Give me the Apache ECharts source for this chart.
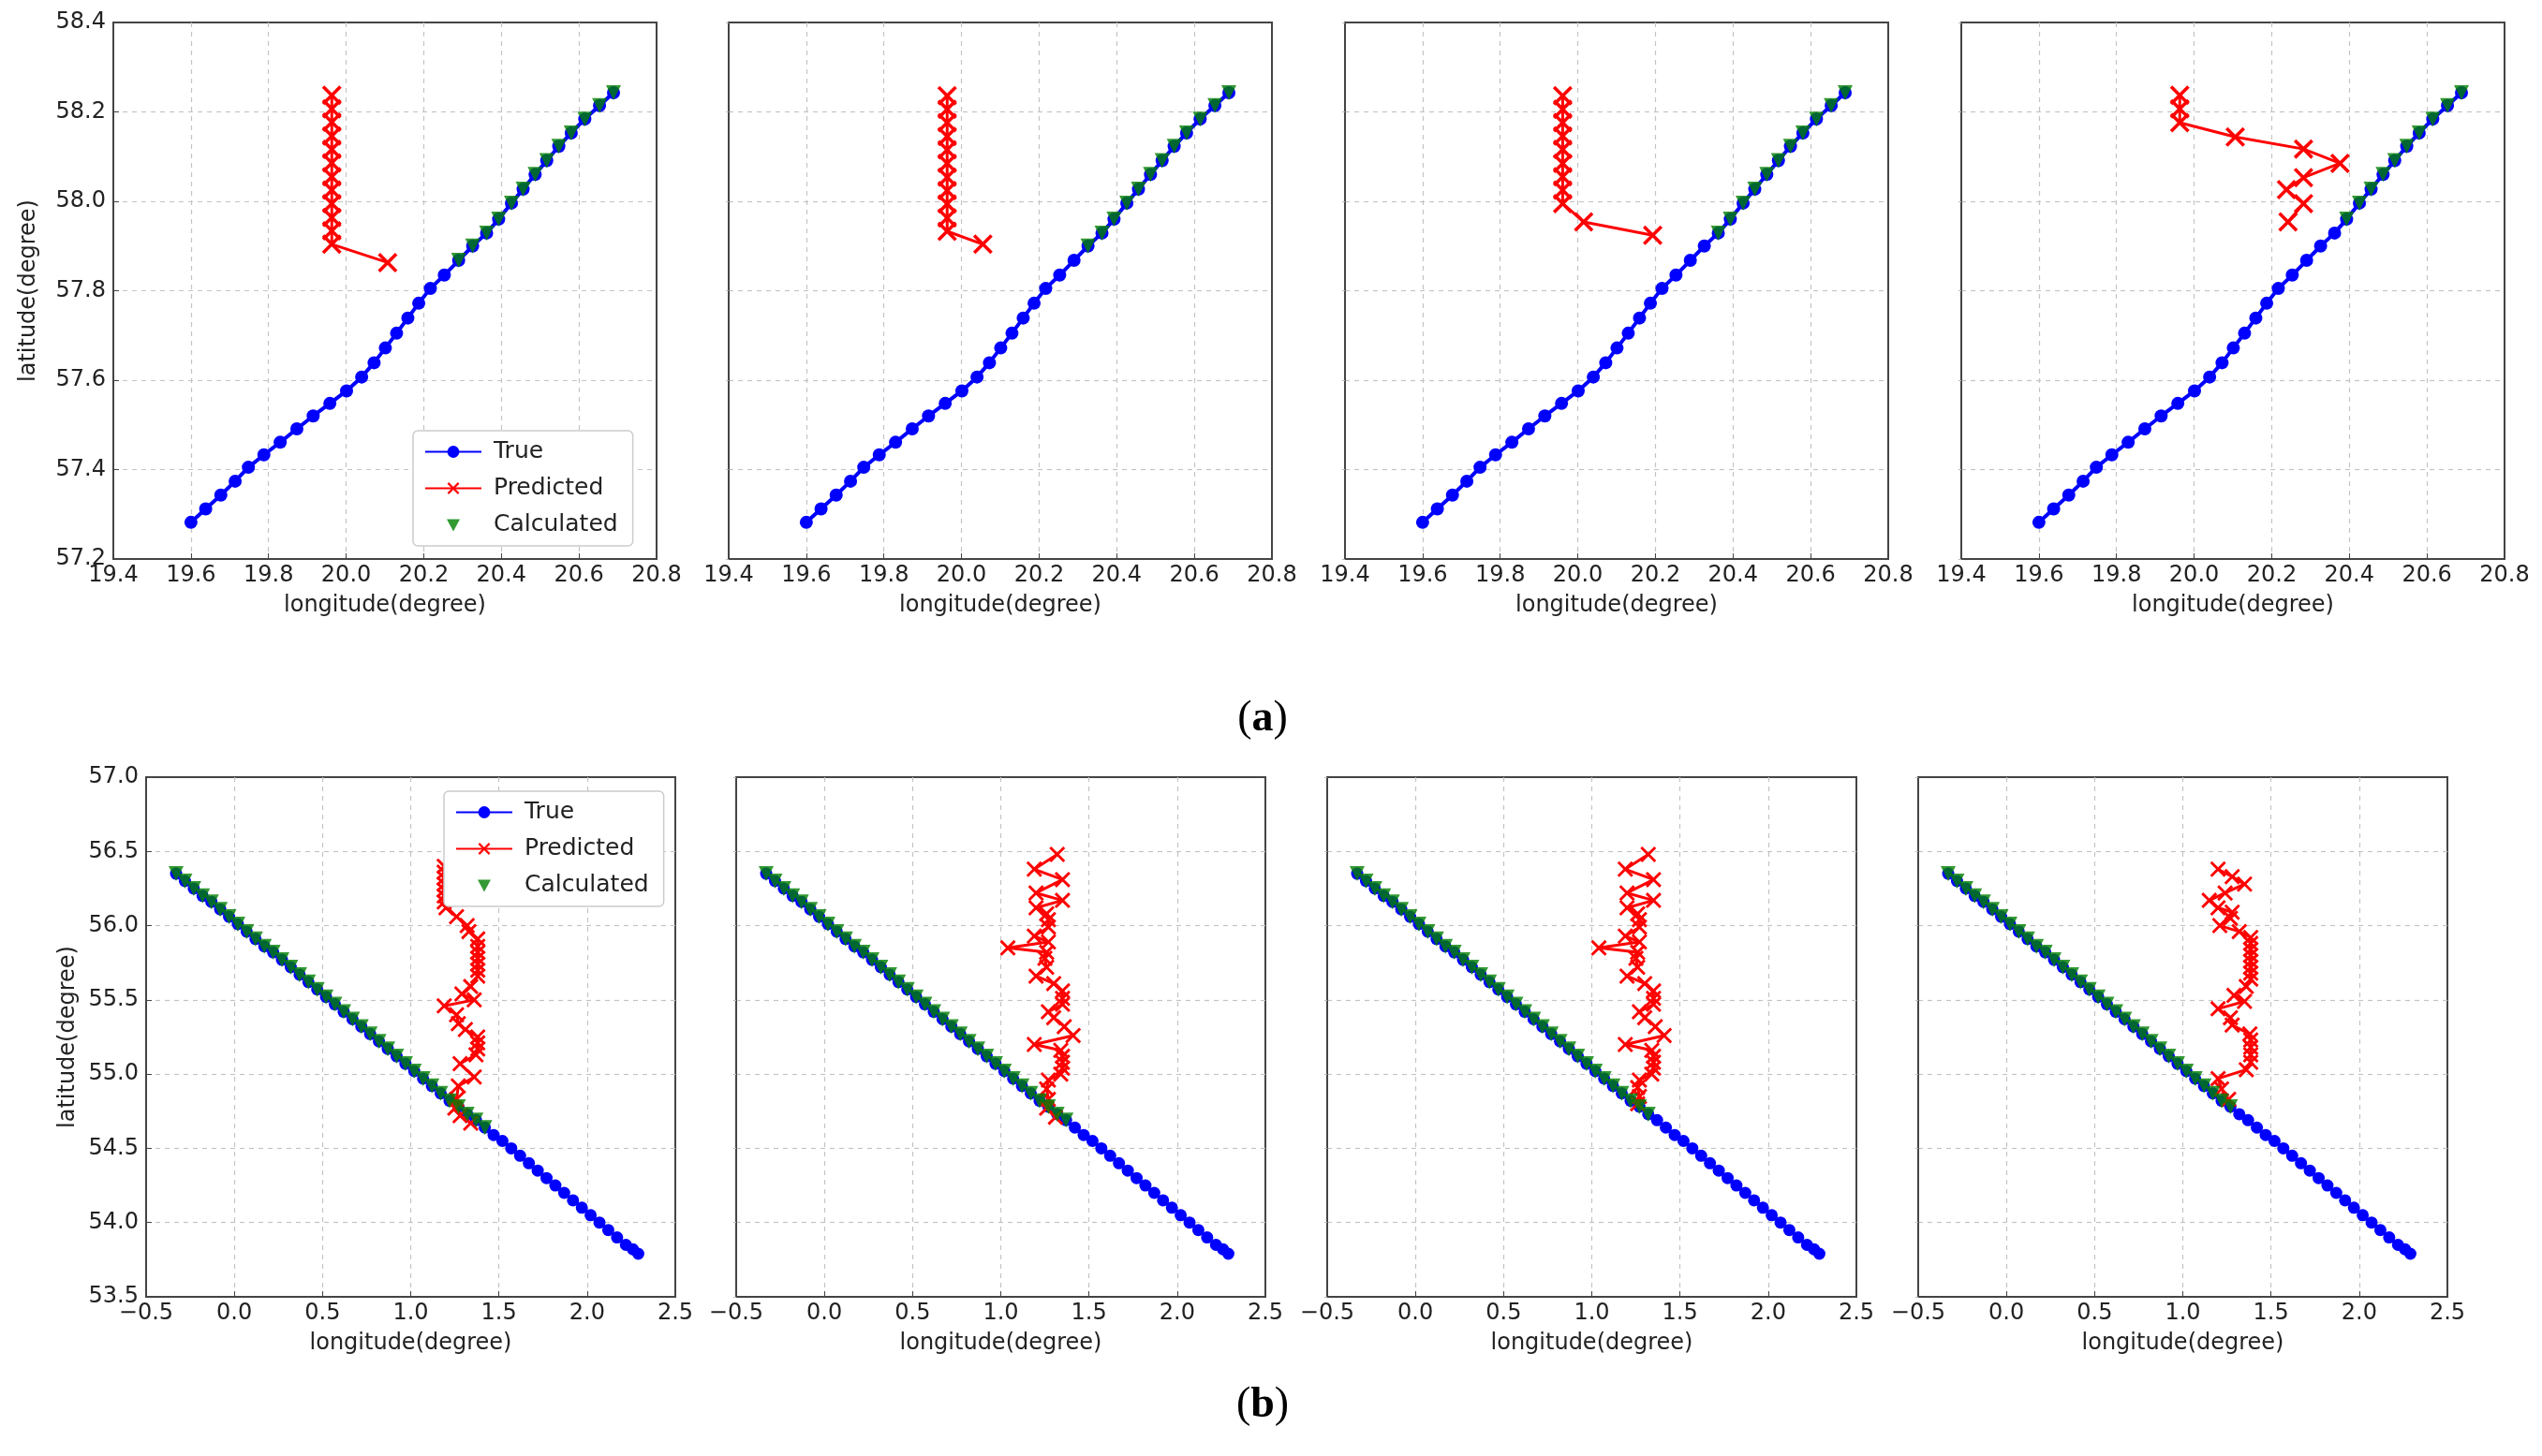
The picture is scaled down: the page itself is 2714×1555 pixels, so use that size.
<!DOCTYPE html>
<html>
<head>
<meta charset="utf-8">
<title>Trajectory prediction</title>
<script src="https://cdn.jsdelivr.net/npm/echarts@6/dist/echarts.min.js"></script>
<style>
    html, body { margin: 0; padding: 0; background: #fff; }
    #chart { width: 2714px; height: 1555px; }
</style>
</head>
<body>
<div id="chart"></div>
<script>
// --- (a) 真实轨迹，四个子图相同 ---
const trueALon = [19.600, 19.638, 19.677, 19.714, 19.748, 19.788, 19.830, 19.873, 19.915, 19.958, 20.001, 20.040, 20.072, 20.101, 20.130, 20.159, 20.187, 20.217, 20.253, 20.290, 20.326, 20.362, 20.393, 20.426, 20.456, 20.487, 20.517, 20.548, 20.580, 20.615, 20.653, 20.689];
const trueALat = [57.282, 57.312, 57.343, 57.374, 57.405, 57.433, 57.461, 57.491, 57.520, 57.548, 57.576, 57.607, 57.639, 57.672, 57.705, 57.739, 57.772, 57.805, 57.835, 57.868, 57.900, 57.929, 57.960, 57.996, 58.027, 58.060, 58.091, 58.123, 58.153, 58.184, 58.214, 58.243];
// first index of the true track that is also "Calculated"
const calcStartA = [19, 20, 21, 22];

const predA1Lon = [19.963, 19.963, 19.963, 19.963, 19.963, 19.963, 19.963, 19.963, 19.963, 19.963, 19.963, 19.963, 20.107];
const predA1Lat = [58.237, 58.207, 58.177, 58.146, 58.116, 58.086, 58.055, 58.025, 57.995, 57.964, 57.934, 57.904, 57.863];
const predA2Lon = [19.963, 19.963, 19.963, 19.963, 19.963, 19.963, 19.963, 19.963, 19.963, 19.963, 19.963, 20.055];
const predA2Lat = [58.236, 58.206, 58.176, 58.145, 58.115, 58.085, 58.054, 58.024, 57.994, 57.963, 57.933, 57.904];
const predA3Lon = [19.961, 19.961, 19.961, 19.961, 19.961, 19.961, 19.961, 19.961, 19.961, 20.015, 20.193];
const predA3Lat = [58.236, 58.206, 58.176, 58.146, 58.116, 58.085, 58.055, 58.025, 57.995, 57.954, 57.924];
const predA4Lon = [19.963, 19.963, 19.963, 20.106, 20.282, 20.376, 20.282, 20.238, 20.282, 20.242];
const predA4Lat = [58.237, 58.207, 58.176, 58.144, 58.117, 58.085, 58.053, 58.026, 57.995, 57.954];

// --- (b) ---
const trueBLon = [-0.33, -0.28, -0.23, -0.18, -0.13, -0.08, -0.03, 0.02, 0.07, 0.12, 0.17, 0.22, 0.27, 0.32, 0.37, 0.42, 0.47, 0.52, 0.57, 0.62, 0.67, 0.72, 0.77, 0.82, 0.87, 0.92, 0.97, 1.02, 1.07, 1.12, 1.17, 1.22, 1.27, 1.32, 1.37, 1.42, 1.47, 1.52, 1.57, 1.62, 1.67, 1.72, 1.77, 1.82, 1.87, 1.92, 1.97, 2.02, 2.07, 2.12, 2.17, 2.22, 2.26, 2.29];
const trueBLat = [56.35, 56.30, 56.25, 56.20, 56.16, 56.11, 56.06, 56.01, 55.96, 55.91, 55.86, 55.82, 55.77, 55.72, 55.67, 55.62, 55.57, 55.52, 55.47, 55.42, 55.37, 55.32, 55.27, 55.22, 55.17, 55.12, 55.07, 55.02, 54.97, 54.92, 54.87, 54.82, 54.78, 54.73, 54.69, 54.64, 54.59, 54.55, 54.50, 54.45, 54.40, 54.35, 54.30, 54.25, 54.20, 54.15, 54.10, 54.05, 54.00, 53.95, 53.90, 53.85, 53.82, 53.79];
// last index of the true track that is also "Calculated"
const calcEndB = [35, 34, 33, 32];

const predB1Lon = [1.34, 1.28, 1.25, 1.26, 1.27, 1.36, 1.28, 1.37, 1.38, 1.38, 1.38, 1.31, 1.27, 1.26, 1.19, 1.36, 1.29, 1.34, 1.38, 1.38, 1.38, 1.38, 1.38, 1.38, 1.38, 1.33, 1.32, 1.26, 1.20, 1.19, 1.19, 1.19, 1.19, 1.19, 1.19, 1.19];
const predB1Lat = [54.67, 54.72, 54.77, 54.83, 54.92, 54.98, 55.07, 55.13, 55.17, 55.21, 55.25, 55.30, 55.34, 55.40, 55.46, 55.50, 55.54, 55.59, 55.66, 55.70, 55.74, 55.78, 55.82, 55.86, 55.91, 55.96, 56.00, 56.06, 56.12, 56.16, 56.20, 56.24, 56.28, 56.32, 56.36, 56.40];
const predB2Lon = [1.31, 1.26, 1.27, 1.26, 1.27, 1.34, 1.35, 1.35, 1.35, 1.34, 1.19, 1.41, 1.36, 1.30, 1.27, 1.35, 1.35, 1.35, 1.30, 1.20, 1.26, 1.25, 1.26, 1.04, 1.27, 1.19, 1.27, 1.27, 1.26, 1.20, 1.35, 1.20, 1.35, 1.19, 1.32];
const predB2Lat = [54.71, 54.77, 54.83, 54.90, 54.96, 55.00, 55.04, 55.08, 55.12, 55.16, 55.20, 55.26, 55.32, 55.38, 55.42, 55.47, 55.51, 55.56, 55.61, 55.66, 55.72, 55.78, 55.82, 55.85, 55.89, 55.93, 55.99, 56.04, 56.08, 56.12, 56.17, 56.22, 56.31, 56.38, 56.48];
const predB3Lon = [1.26, 1.27, 1.26, 1.27, 1.34, 1.35, 1.35, 1.35, 1.34, 1.19, 1.41, 1.36, 1.30, 1.27, 1.35, 1.35, 1.35, 1.30, 1.20, 1.26, 1.25, 1.26, 1.04, 1.27, 1.19, 1.27, 1.27, 1.26, 1.20, 1.35, 1.20, 1.35, 1.19, 1.32];
const predB3Lat = [54.80, 54.85, 54.91, 54.96, 55.00, 55.04, 55.08, 55.12, 55.16, 55.20, 55.26, 55.32, 55.38, 55.42, 55.47, 55.51, 55.56, 55.61, 55.66, 55.72, 55.78, 55.82, 55.85, 55.89, 55.93, 55.99, 56.04, 56.08, 56.12, 56.17, 56.22, 56.31, 56.38, 56.48];
const predB4Lon = [1.26, 1.22, 1.20, 1.36, 1.385, 1.385, 1.385, 1.385, 1.38, 1.28, 1.27, 1.20, 1.35, 1.29, 1.36, 1.385, 1.385, 1.385, 1.385, 1.385, 1.385, 1.385, 1.385, 1.32, 1.21, 1.27, 1.28, 1.20, 1.15, 1.24, 1.35, 1.28, 1.20];
const predB4Lat = [54.83, 54.90, 54.97, 55.03, 55.08, 55.13, 55.18, 55.23, 55.27, 55.33, 55.38, 55.44, 55.49, 55.53, 55.59, 55.64, 55.68, 55.72, 55.76, 55.80, 55.84, 55.88, 55.92, 55.96, 56.00, 56.05, 56.09, 56.12, 56.17, 56.22, 56.28, 56.33, 56.38];

const seriesNames = ['True', 'Predicted', 'Calculated'];

// 画布布局 (px)
const rowA = { top: 24, height: 573, width: 580, lefts: [121, 778, 1436, 2094] };
const rowB = { top: 830, height: 555, width: 565, lefts: [156, 786, 1417, 2048] };

const FONT = 'DejaVu Sans';
const crossPath = 'path://M0,1.2L1.2,0L5,3.8L8.8,0L10,1.2L6.2,5L10,8.8L8.8,10L5,6.2L1.2,10L0,8.8L3.8,5Z';
// legend icon: small down-triangle centred in the 60x16 icon box (corner specks keep the box size)
const legendTri = 'path://M0,0L0.01,0L0,0.01Z M60,16L59.99,16L60,15.99Z M23,2L37,2L30,15Z';
const zip = (a, b) => a.map((v, i) => [v, b[i]]);
const fmt = v => v.toFixed(1).replace('-', '\u2212');

const panels = [
    { row: rowA, col: 0, tLon: trueALon, tLat: trueALat, pLon: predA1Lon, pLat: predA1Lat, calc: [calcStartA[0], trueALon.length - 1] },
    { row: rowA, col: 1, tLon: trueALon, tLat: trueALat, pLon: predA2Lon, pLat: predA2Lat, calc: [calcStartA[1], trueALon.length - 1] },
    { row: rowA, col: 2, tLon: trueALon, tLat: trueALat, pLon: predA3Lon, pLat: predA3Lat, calc: [calcStartA[2], trueALon.length - 1] },
    { row: rowA, col: 3, tLon: trueALon, tLat: trueALat, pLon: predA4Lon, pLat: predA4Lat, calc: [calcStartA[3], trueALon.length - 1] },
    { row: rowB, col: 0, tLon: trueBLon, tLat: trueBLat, pLon: predB1Lon, pLat: predB1Lat, calc: [0, calcEndB[0]] },
    { row: rowB, col: 1, tLon: trueBLon, tLat: trueBLat, pLon: predB2Lon, pLat: predB2Lat, calc: [0, calcEndB[1]] },
    { row: rowB, col: 2, tLon: trueBLon, tLat: trueBLat, pLon: predB3Lon, pLat: predB3Lat, calc: [0, calcEndB[2]] },
    { row: rowB, col: 3, tLon: trueBLon, tLat: trueBLat, pLon: predB4Lon, pLat: predB4Lat, calc: [0, calcEndB[3]] }
];

const grids = [], xAxes = [], yAxes = [], series = [];

panels.forEach((p, k) => {
    const isA = p.row === rowA;
    const first = p.col === 0;
    grids.push({
        left: p.row.lefts[p.col], top: p.row.top, width: p.row.width, height: p.row.height,
        show: true, borderColor: '#444', borderWidth: 2, backgroundColor: '#fff'
    });

    const splitLine = { show: true, showMinLine: false, showMaxLine: false, lineStyle: { color: '#c4c4c4', type: [5, 5], width: 1.2 } };
    const axisLabel = { fontFamily: FONT, fontSize: 24, color: '#222', formatter: fmt };

    xAxes.push({
        type: 'value', gridIndex: k,
        min: isA ? 19.4 : -0.5, max: isA ? 20.8 : 2.5, interval: isA ? 0.2 : 0.5,
        name: 'longitude(degree)', nameLocation: 'middle', nameGap: 38,
        nameTextStyle: { fontFamily: FONT, fontSize: 24, color: '#222' },
        axisLine: { show: true, onZero: false, lineStyle: { color: '#444', width: 2 } },
        axisTick: { show: true, inside: true, length: 6, lineStyle: { color: '#444' } },
        axisLabel: Object.assign({ margin: 6 }, axisLabel),
        splitLine
    });
    yAxes.push({
        type: 'value', gridIndex: k,
        min: isA ? 57.2 : 53.5, max: isA ? 58.4 : 57.0, interval: isA ? 0.2 : 0.5,
        name: first ? 'latitude(degree)' : '', nameLocation: 'middle', nameGap: isA ? 78 : 71,
        nameTextStyle: { fontFamily: FONT, fontSize: 24, color: '#222' },
        axisLine: { show: true, onZero: false, lineStyle: { color: '#444', width: 2 } },
        axisTick: { show: true, inside: first, length: first ? 6 : 3, lineStyle: { color: first ? '#444' : '#bbb' } },
        axisLabel: Object.assign({ show: first }, axisLabel),
        splitLine
    });

    const trueData = zip(p.tLon, p.tLat);
    series.push({
        name: 'True', type: 'line', xAxisIndex: k, yAxisIndex: k, z: 2,
        data: trueData,
        symbol: 'circle', symbolSize: isA ? 14 : 13, showAllSymbol: true,
        lineStyle: { color: '#0000ff', width: isA ? 4 : 3.5 },
        itemStyle: { color: '#0000ff' }
    });
    series.push({
        name: 'Predicted', type: 'line', xAxisIndex: k, yAxisIndex: k, z: 3,
        data: zip(p.pLon, p.pLat),
        symbol: crossPath, symbolSize: isA ? 21 : 17, showAllSymbol: true,
        lineStyle: { color: '#ff0000', width: 3 },
        itemStyle: { color: '#ff0000' }
    });
    series.push({
        name: 'Calculated', type: 'scatter', xAxisIndex: k, yAxisIndex: k, z: 4,
        data: trueData.slice(p.calc[0], p.calc[1] + 1),
        symbol: 'triangle', symbolRotate: 180, symbolSize: 16,
        itemStyle: { color: '#008000' }
    });
});

const legendBase = {
    orient: 'vertical', z: 10,
    data: [
        { name: seriesNames[0] },
        { name: seriesNames[1] },
        { name: seriesNames[2], icon: legendTri }
    ],
    symbolRotate: 0,
    itemWidth: 60, itemHeight: 16, itemGap: 14,
    backgroundColor: '#fff', borderColor: '#cccccc', borderWidth: 1.5, borderRadius: 5,
    padding: [10, 16, 10, 12],
    textStyle: { fontFamily: FONT, fontSize: 25, color: '#222', padding: [0, 0, 0, 8] }
};

const capStyle = {
    rich: {
        p: { fontFamily: 'Liberation Serif', fontSize: 46, fontWeight: 'normal', color: '#000' },
        b: { fontFamily: 'Liberation Serif', fontSize: 46, fontWeight: 'bold', color: '#000' }
    }
};

const chart = echarts.init(document.getElementById('chart'));
chart.setOption({
    animation: false,
    backgroundColor: '#fff',
    title: [
        { text: '{p|(}{b|a}{p|)}', left: 1343, top: 740, textAlign: 'center', textStyle: capStyle },
        { text: '{p|(}{b|b}{p|)}', left: 1343, top: 1473, textAlign: 'center', textStyle: capStyle }
    ],
    legend: [
        Object.assign({ left: 441, top: 460 }, legendBase),
        Object.assign({ left: 474, top: 845 }, legendBase)
    ],
    grid: grids,
    xAxis: xAxes,
    yAxis: yAxes,
    series: series
});
</script>
</body>
</html>
